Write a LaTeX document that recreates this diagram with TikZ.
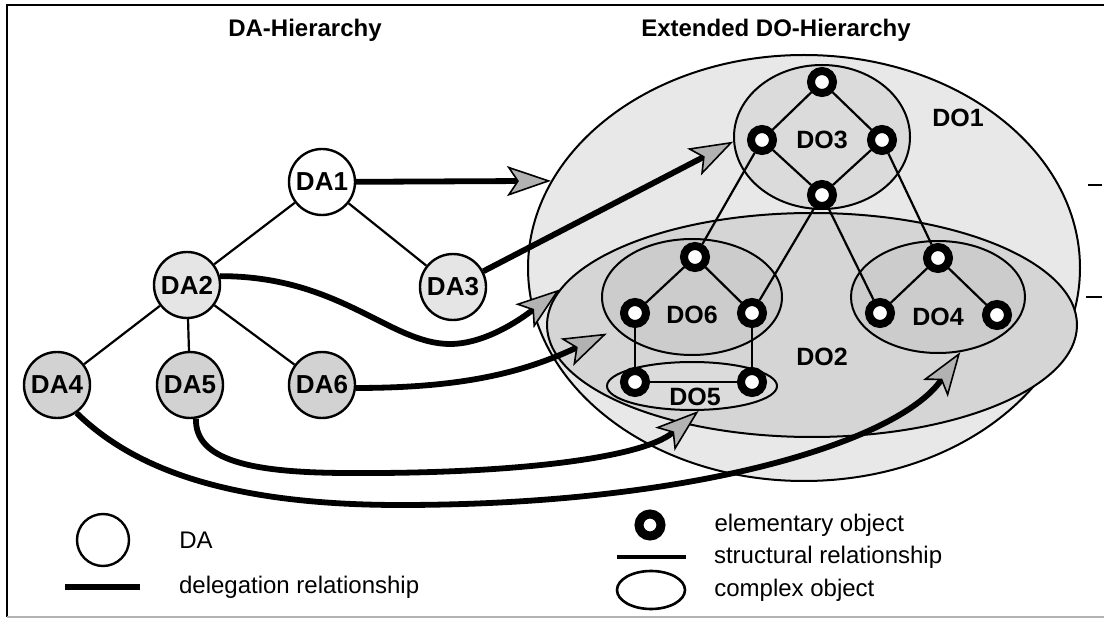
\documentclass[tikz,border=0pt]{standalone}
\usepackage{fontspec}
\setmainfont{Liberation Sans}
\usetikzlibrary{positioning,arrows.meta,shapes.geometric}

\begin{document}
\begin{tikzpicture}[
  x=0.5pt, y=-0.5pt,
  font=\fontsize{12}{14}\selectfont,
  agente/.style={circle, draw, line width=1.2pt, minimum size=33pt, inner sep=0pt, font=\fontsize{13}{15}\selectfont\bfseries},
  elemental/.style={circle, draw, line width=4pt, fill=white, minimum size=11pt, inner sep=0pt},
  complejo/.style={ellipse, draw, line width=1pt, inner sep=0pt},
  rotulo/.style={font=\fontsize{12.5}{14}\selectfont\bfseries},
  titulo/.style={font=\fontsize{12}{14}\selectfont\bfseries},
  enlace/.style={line width=1.1pt},
  delega/.style={line width=2.9pt, -{Stealth[length=22pt,width=15pt,inset=5pt,fill=gray!60,line width=0.8pt]}}
]
\useasboundingbox (0,0) rectangle (1104,620);
\draw[line width=1pt] (7,617) -- (7,5) -- (1104,5);
\draw[gray!60, line width=0.6pt] (7,617) -- (1104,617);
\draw[line width=0.8pt] (1088,185) -- (1102,185);
\draw[line width=0.8pt] (1086,297) -- (1102,297);

\node[titulo] (tda) at (305,30) {DA-Hierarchy};
\node[titulo] (tdo) at (776,30) {Extended DO-Hierarchy};

% complex objects
\node[complejo, fill=gray!18, minimum width=276pt, minimum height=213pt] (do1) at (804,268) {};
\node[complejo, fill=gray!28, minimum width=88pt, minimum height=72pt] (do3) at (822,137) {};
\node[complejo, fill=gray!33, minimum width=265pt, minimum height=112pt] (do2) at (812,325) {};
\node[complejo, fill=gray!40, minimum width=90pt, minimum height=58pt] (do6) at (692,297) {};
\node[complejo, fill=gray!28, minimum width=85pt, minimum height=24pt] (do5) at (692,386) {};
\node[complejo, fill=gray!40, minimum width=87pt, minimum height=56pt] (do4) at (938,297) {};

\node[rotulo] (tdo1) at (958,118) {DO1};
\node[rotulo] (tdo2) at (822,357) {DO2};
\node[rotulo] (tdo3) at (822,140) {DO3};
\node[rotulo] (tdo4) at (938,317) {DO4};
\node[rotulo] (tdo5) at (695,397) {DO5};
\node[rotulo] (tdo6) at (692,315) {DO6};

% elementary objects
\node[elemental] (n3t) at (822,82) {};
\node[elemental] (n3l) at (762,140) {};
\node[elemental] (n3r) at (882,140) {};
\node[elemental] (n3b) at (822,195) {};
\node[elemental] (n6t) at (695,257) {};
\node[elemental] (n6l) at (635,313) {};
\node[elemental] (n6r) at (752,313) {};
\node[elemental] (n5l) at (635,382) {};
\node[elemental] (n5r) at (752,382) {};
\node[elemental] (n4t) at (938,258) {};
\node[elemental] (n4l) at (880,313) {};
\node[elemental] (n4r) at (997,315) {};

\draw[enlace] (n3t) -- (n3l);
\draw[enlace] (n3t) -- (n3r);
\draw[enlace] (n3l) -- (n3b);
\draw[enlace] (n3r) -- (n3b);
\draw[enlace] (n3l) -- (n6t);
\draw[enlace] (n3b) -- (n6r);
\draw[enlace] (n3b) -- (n4l);
\draw[enlace] (n3r) -- (n4t);
\draw[enlace] (n6t) -- (n6l);
\draw[enlace] (n6t) -- (n6r);
\draw[enlace] (n6l) -- (n5l);
\draw[enlace] (n6r) -- (n5r);
\draw[enlace] (n5l) -- (n5r);
\draw[enlace] (n4t) -- (n4l);
\draw[enlace] (n4t) -- (n4r);

% DA hierarchy
\node[agente, fill=white] (da1) at (322,182) {DA1};
\node[agente, fill=gray!20] (da2) at (187,285) {DA2};
\node[agente, fill=gray!20] (da3) at (453,287) {DA3};
\node[agente, fill=gray!35] (da4) at (57,385) {DA4};
\node[agente, fill=gray!35] (da5) at (190,385) {DA5};
\node[agente, fill=gray!35] (da6) at (322,385) {DA6};

\draw[enlace] (da1) -- (da2);
\draw[enlace] (da1) -- (da3);
\draw[enlace] (da2) -- (da4);
\draw[enlace] (da2) -- (da5);
\draw[enlace] (da2) -- (da6);

% delegation
\draw[delega] (da1) -- (do1.161);
\draw[delega] (da3) -- (do3.183);
\draw[delega] (da2.15) .. controls (340,276) and (390,344) .. (450,344) .. controls (490,344) and (530,312) .. (do2.172);
\draw[delega, shorten >=5pt] (da6.-5) to[out=0, in=205] (do6.203);
\draw[delega] (da5.-80) .. controls (195,460) and (250,473) .. (350,473) .. controls (500,474) and (640,460) .. (do5.-75);
\draw[delega] (da4.-55) .. controls (130,465) and (220,505) .. (400,505) .. controls (700,505) and (900,440) .. (do4.-68);

% legend
\node[agente, minimum size=26pt] (kda) at (103,540) {};
\node[right=21pt of kda] (tkda) {DA};
\coordinate (kd1) at (65,587);
\coordinate (kd2) at (140,587);
\draw[line width=2.9pt] (kd1) -- (kd2);
\node[right=16pt of kd2] (tkd) {delegation relationship};

\node[elemental, line width=4.5pt] (kel) at (650,525) {};
\node[right=21pt of kel] (tkel) {elementary object};
\coordinate (ks1) at (617,557);
\coordinate (ks2) at (686,557);
\draw[line width=2pt] (ks1) -- (ks2);
\node[right=10.5pt of ks2] (tks) {structural relationship};
\node[complejo, line width=1.3pt, minimum width=34pt, minimum height=19pt] (kco) at (651,590) {};
\node[right=10.5pt of kco] (tkco) {complex object};
\end{tikzpicture}
\end{document}
